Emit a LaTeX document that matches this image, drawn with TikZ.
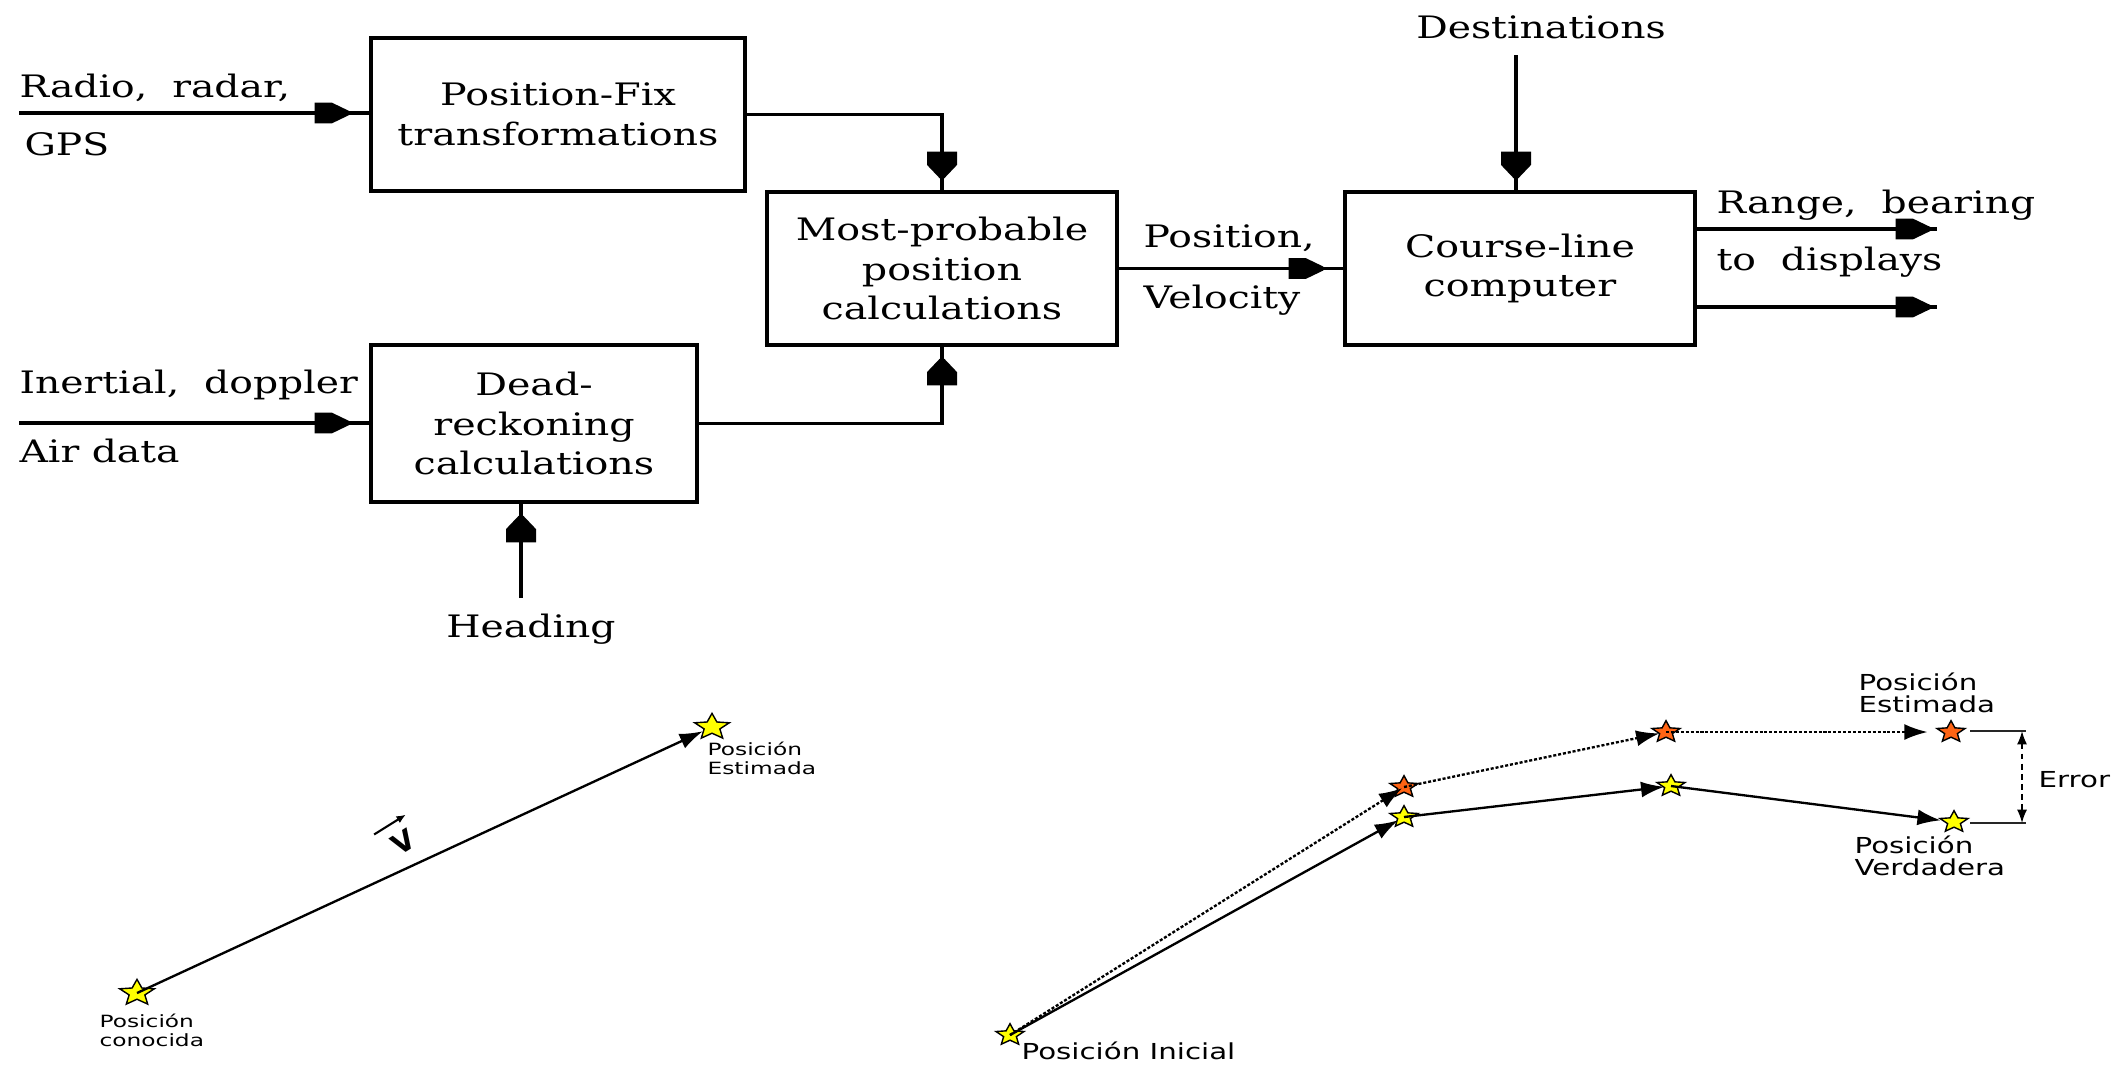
\documentclass[tikz,border=0pt]{standalone}
\usepackage{graphicx}
\usepackage{fontspec}
\setmainfont{DejaVu Serif}
\newfontfamily\dvs{DejaVu Sans}
\usetikzlibrary{arrows.meta,shapes.geometric,decorations.markings,calc}
\definecolor{staryel}{RGB}{255,255,0}
\definecolor{starora}{RGB}{255,100,20}
\newcommand{\sx}[1]{\scalebox{1.28}[1]{#1}}
\newcommand{\topfont}{\fontsize{13.2pt}{17pt}\selectfont}
\newcommand{\blfont}{\dvs\fontsize{7.2pt}{8.4pt}\selectfont}
\newcommand{\brfont}{\dvs\fontsize{9.4pt}{9.8pt}\selectfont}
\begin{document}
\begin{tikzpicture}[x=0.15mm,y=-0.15mm,
  box/.style={draw, line width=1.5pt, inner sep=0pt, align=center, font=\topfont},
  lbl/.style={inner sep=0pt, font=\topfont, xscale=1.27},
  hflow/.style={line width=1.3pt, postaction={decorate, decoration={markings,
      mark=at position -#1 with {\fill (-5.2mm,-1.55mm) -- (-2.6mm,-1.55mm) -- (0mm,-0.3mm)
        -- (0mm,0.3mm) -- (-2.6mm,1.55mm) -- (-5.2mm,1.55mm) -- cycle;}}}},
  hflow/.default=3mm,
  vflow/.style={line width=1.3pt, postaction={decorate, decoration={markings,
      mark=at position -#1 with {\fill (-4mm,-2.25mm) -- (-2mm,-2.25mm) -- (0mm,-0.35mm)
        -- (0mm,0.35mm) -- (-2mm,2.25mm) -- (-4mm,2.25mm) -- cycle;}}}},
  vflow/.default=1.8mm,
  starbase/.style={star, star points=5, star point ratio=2.2, draw=black, line width=0.6pt, inner sep=0pt},
  ystarL/.style={starbase, fill=staryel, minimum size=4.1mm, xscale=1.33},
  ystarR/.style={starbase, fill=staryel, minimum size=3.4mm, xscale=1.3},
  ostarR/.style={starbase, fill=starora, minimum size=3.4mm, xscale=1.3},
  barrow/.style={line width=1pt, -{Latex[length=3.5mm,width=2.4mm]}, shorten >=1mm},
  darrow/.style={barrow, dash pattern=on 1.3pt off 0.8pt},
  errarrow/.style={line width=0.7pt, {Latex[length=2mm,width=1.5mm]}-{Latex[length=2mm,width=1.5mm]}, dash pattern=on 2.5pt off 1.8pt},
  blbl/.style={inner sep=0pt, font=\blfont, xscale=1.38, anchor=base west},
  rlbl/.style={inner sep=0pt, font=\brfont, xscale=1.33, anchor=base west}
]
\useasboundingbox (0,0) rectangle (2126,1065);

% ---------- block diagram ----------
\node[box, minimum width=56.1mm, minimum height=22.95mm] (pf) at (558,114.5)
  {\sx{Position-Fix}\\\sx{transformations}};
\node[box, minimum width=48.9mm, minimum height=23.55mm] (dr) at (534,423.5)
  {\sx{Dead-}\\\sx{reckoning}\\\sx{calculations}};
\node[box, minimum width=52.5mm, minimum height=22.95mm] (mp) at (942,268.5)
  {\sx{Most-probable}\\\sx{position}\\\sx{calculations}};
\node[box, minimum width=52.5mm, minimum height=22.95mm] (cl) at (1520,268.5)
  {\sx{Course-line}\\\sx{computer}};

\node[lbl, anchor=base west] (lradio) at (19,97) {Radio,\ \ radar,};
\node[lbl, anchor=base west] (lgps) at (24,155) {GPS};
\node[lbl, anchor=base west] (liner) at (19,393) {Inertial,\ \ doppler};
\node[lbl, anchor=base west] (lair) at (19,462) {Air data};
\node[lbl, anchor=base] (lhead) at (531,637) {Heading};
\node[lbl, anchor=base] (ldest) at (1541,38) {Destinations};
\node[lbl, anchor=base west] (lpos) at (1143,247) {Position,};
\node[lbl, anchor=base west] (lvel) at (1143,308) {Velocity};
\node[lbl, anchor=base west] (lrange) at (1716,213) {Range,\ \ bearing};
\node[lbl, anchor=base west] (ldisp) at (1716,270) {to\ \ displays};

\coordinate (rin) at (19,113);
\coordinate (iin) at (19,423);
\coordinate (hdc) at (521,598);
\coordinate (dsc) at (1516,55);
\coordinate (o1) at (1937,229);
\coordinate (o2) at (1937,307);

\draw[hflow] (rin) -- (rin -| pf.west);
\draw[hflow] (iin) -- (iin -| dr.west);
\draw[vflow] (pf.east) -| (mp.north);
\draw[vflow] (dr.east) -| (mp.south);
\draw[vflow] (hdc) -- (hdc |- dr.south);
\draw[vflow] (dsc) -- (dsc |- cl.north);
\draw[hflow] (mp.east) -- (cl.west);
\draw[hflow=1mm] (o1 -| cl.east) -- (o1);
\draw[hflow=1mm] (o2 -| cl.east) -- (o2);

% ---------- bottom left ----------
\node[ystarL] (sk) at (137,993) {};
\node[ystarL] (se) at (712,727) {};
\draw[barrow, shorten >=1.5mm] (sk.center) -- (se.center);
\node[rotate=32, inner sep=0.3pt, font=\dvs\bfseries\fontsize{12pt}{12pt}\selectfont] (vlab) at (403,842) {V};
\coordinate (va) at ($(vlab.north west)!-0.45!(vlab.south west)$);
\coordinate (vb) at ($(vlab.north east)!-0.45!(vlab.south east)$);
\draw[line width=0.9pt, -{Latex[length=1.4mm,width=1.2mm]}] ($(va)!-0.35!(vb)$) -- ($(vb)!-0.2!(va)$);
\node[blbl] (lconoc) at (99,1027) {\vtop{\hbox{Posición}\hbox{conocida}}};
\node[blbl] (lestl) at (707,755) {\vtop{\hbox{Posición}\hbox{Estimada}}};

% ---------- bottom right ----------
\node[ystarR] (pi) at (1010,1035) {};
\node[ostarR] (e1) at (1404,787) {};
\node[ostarR] (e2) at (1666,732) {};
\node[ostarR] (e3) at (1951,732) {};
\node[ystarR] (t1) at (1404,817) {};
\node[ystarR] (t2) at (1671,786) {};
\node[ystarR] (t3) at (1954,822) {};

\draw[darrow, shorten >=0.3mm] (pi.center) -- (e1.center);
\draw[darrow] (e1.center) -- (e2.center);
\draw[darrow, shorten >=3.5mm] (e2.center) -- (e3.center);
\draw[barrow] (pi.center) -- (t1.center);
\draw[barrow] (t1.center) -- (t2.center);
\draw[barrow, shorten >=2mm] (t2.center) -- (t3.center);

\coordinate (eu1) at (1970,731);
\coordinate (eu2) at (2026,731);
\coordinate (el1) at (1970,823);
\coordinate (el2) at (2026,823);
\coordinate (ea) at (2022,731);
\coordinate (eb) at (2022,823);
\draw[line width=0.7pt, black!85] (eu1) -- (eu2);
\draw[line width=0.7pt, black!85] (el1) -- (el2);
\draw[errarrow] (ea) -- (eb);

\node[rlbl] (lerr) at (2038,787) {Error};
\node[rlbl] (lestr) at (1858,690) {\vtop{\hbox{Posición}\hbox{Estimada}}};
\node[rlbl] (lverd) at (1854,853) {\vtop{\hbox{Posición}\hbox{Verdadera}}};
\node[rlbl] (lini) at (1021,1059) {Posición Inicial};
\end{tikzpicture}
\end{document}
